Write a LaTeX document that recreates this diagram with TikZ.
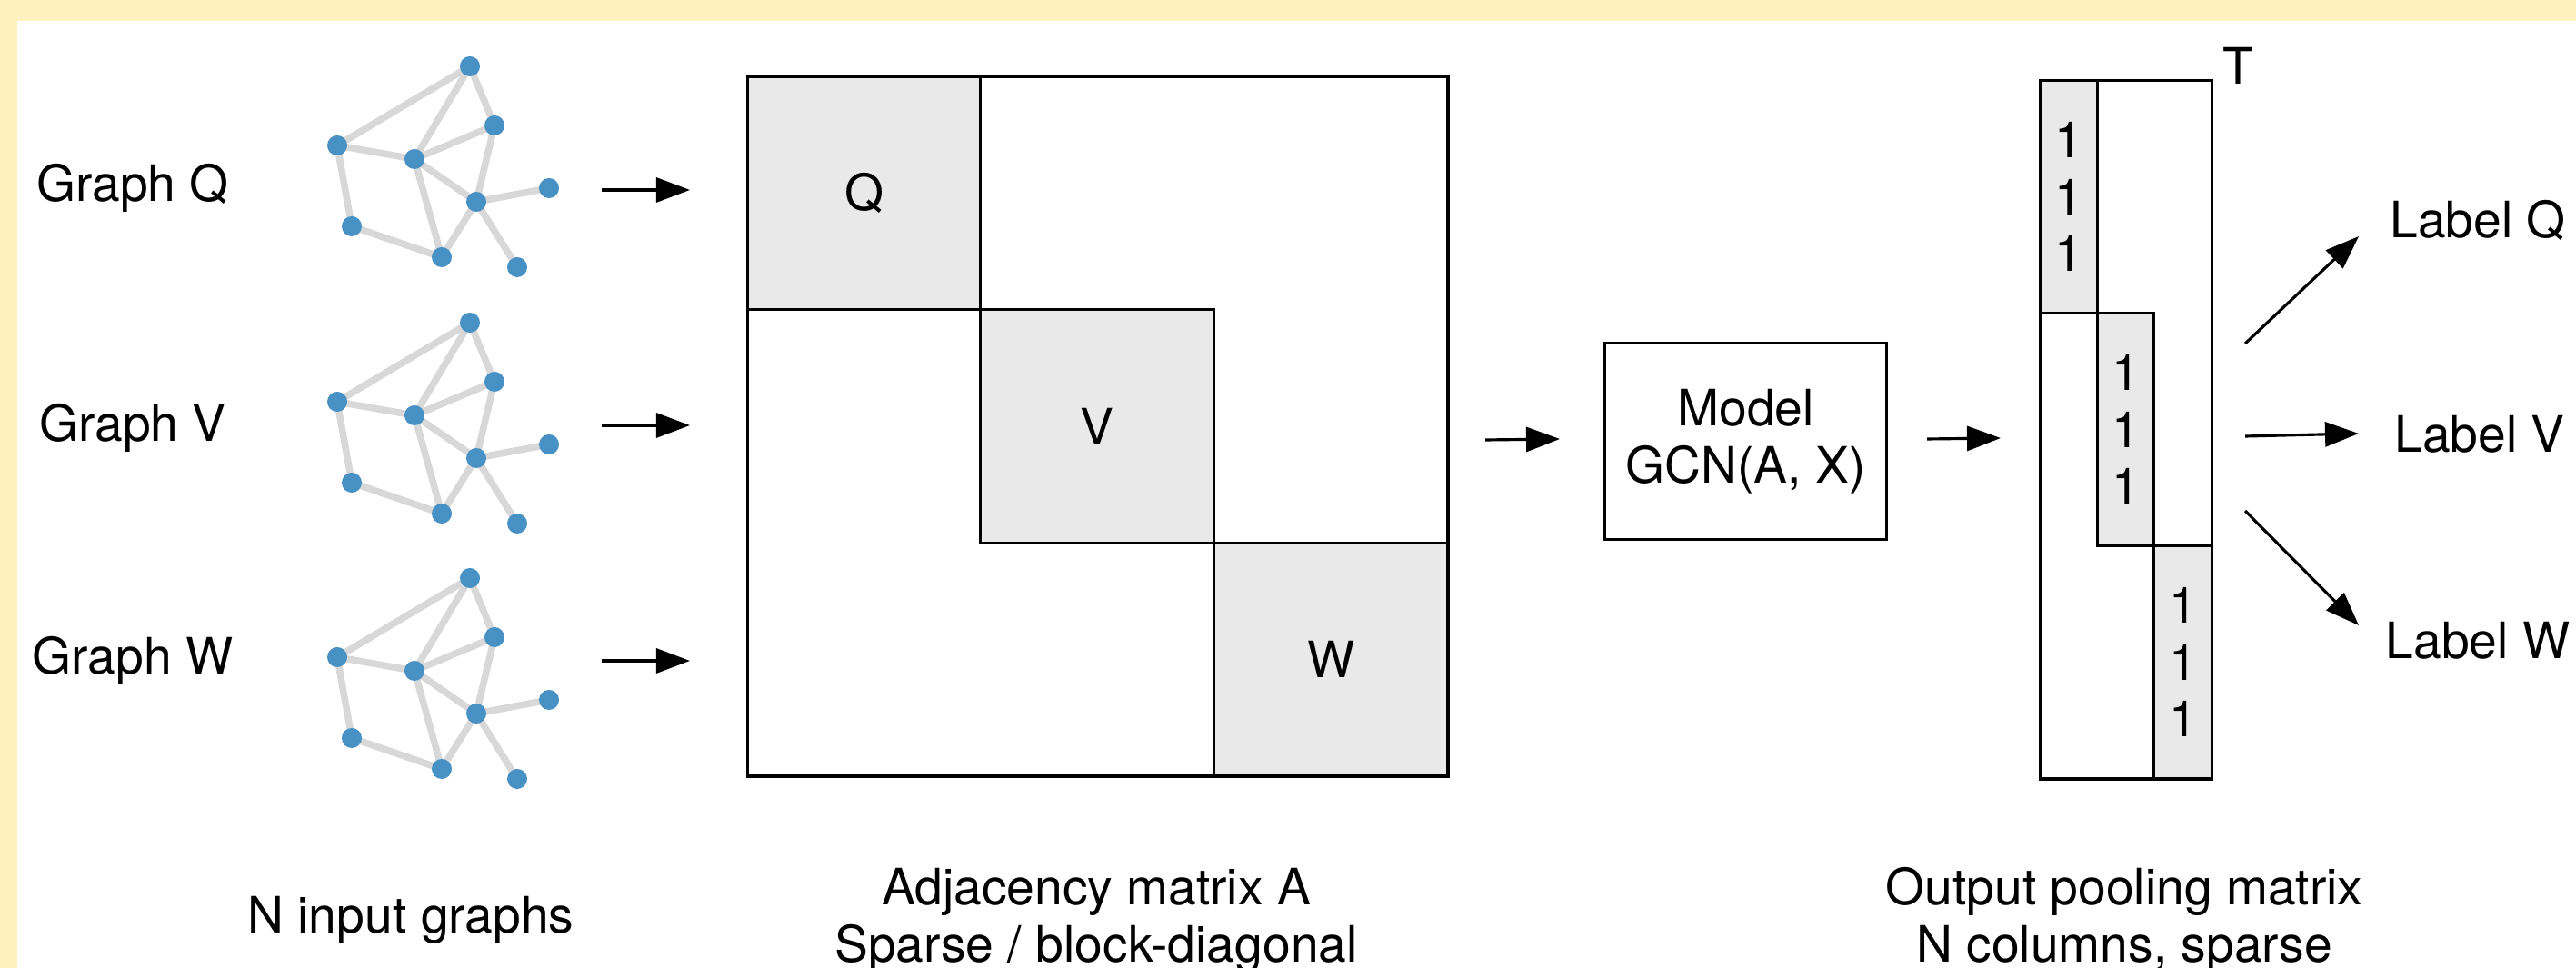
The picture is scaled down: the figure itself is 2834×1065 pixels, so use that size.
\documentclass[tikz,border=0pt]{standalone}
\usepackage{fontspec}
\setmainfont{TeX Gyre Heros}
\usetikzlibrary{arrows.meta}
\definecolor{bandyellow}{RGB}{255,240,191}
\definecolor{blockgray}{RGB}{233,233,233}
\definecolor{edgegray}{RGB}{216,216,216}
\definecolor{nodeblue}{RGB}{72,145,196}
\pgfdeclarelayer{back}
\pgfdeclarelayer{edges}
\pgfsetlayers{back,edges,main}
\begin{document}
\begin{tikzpicture}[x=0.01cm,y=-0.01cm,
  txt/.style={font=\fontsize{15.7}{17.8}\selectfont, inner sep=0pt},
  gnode/.style={circle, fill=nodeblue, minimum size=0.22cm, inner sep=0pt},
  gedge/.style={draw=edgegray, line width=0.075cm},
  matbox/.style={draw=black, line width=0.9pt, rectangle, inner sep=0pt, anchor=north west},
  block/.style={matbox, fill=blockgray, font=\fontsize{15.7}{17.8}\selectfont, align=center},
  arr/.style={line width=0.9pt, -{Triangle[length=0.37cm,width=0.27cm]}},
]
\useasboundingbox (0,0) rectangle (2834,1065);
\begin{pgfonlayer}{back}
  \fill[white] (0,0) rectangle (2834,1065);
  \fill[bandyellow] (0,0) rectangle (2834,23);
  \fill[bandyellow] (0,0) rectangle (19,1065);
\end{pgfonlayer}

% input graphs
\foreach \g/\dy in {Q/0,V/282,W/563}{
  \begin{scope}[shift={(0,\dy)}]
    \node[gnode] (g\g-t)  at (517,73)  {};
    \node[gnode] (g\g-rm) at (544,138) {};
    \node[gnode] (g\g-l)  at (371,160) {};
    \node[gnode] (g\g-c)  at (456,175) {};
    \node[gnode] (g\g-fr) at (604,207) {};
    \node[gnode] (g\g-h)  at (524,222) {};
    \node[gnode] (g\g-ll) at (387,249) {};
    \node[gnode] (g\g-b)  at (486,283) {};
    \node[gnode] (g\g-br) at (569,294) {};
  \end{scope}
  \begin{pgfonlayer}{edges}
    \foreach \a/\b in {t/l,t/c,t/rm,rm/c,rm/h,l/c,l/ll,ll/b,c/b,c/h,h/b,h/fr,h/br}
      \draw[gedge] (g\g-\a.center) -- (g\g-\b.center);
  \end{pgfonlayer}
}

% graph labels
\node[txt, anchor=base] (lgQ) at (146,222) {Graph Q};
\node[txt, anchor=base] (lgV) at (146,486) {Graph V};
\node[txt, anchor=base] (lgW) at (146,742) {Graph W};

% arrows graphs -> matrix
\coordinate (aQs) at (662,209); \coordinate (aQe) at (759,209);
\coordinate (aVs) at (662,468); \coordinate (aVe) at (759,468);
\coordinate (aWs) at (662,727); \coordinate (aWe) at (759,727);
\draw[arr] (aQs) -- (aQe);
\draw[arr] (aVs) -- (aVe);
\draw[arr] (aWs) -- (aWe);

% adjacency matrix
\node[matbox, minimum width=7.70cm, minimum height=7.69cm] (matA) at (821,83) {};
\node[block, minimum width=2.56cm, minimum height=2.56cm] (bQ) at (821,83) {Q};
\node[block, minimum width=2.57cm, minimum height=2.57cm] (bV) at (1077,339) {V};
\node[block, minimum width=2.57cm, minimum height=2.56cm] (bW) at (1334,596) {W};

% model
\coordinate (mIs) at (1634,484); \coordinate (mIe) at (1716,483);
\draw[arr] (mIs) -- (mIe);
\node[matbox, minimum width=3.10cm, minimum height=2.16cm, align=center,
      font=\fontsize{15.7}{17.8}\selectfont] (model) at (1764,376) {Model\\GCN(A, X)};
\coordinate (mOs) at (2120,483); \coordinate (mOe) at (2201,482);
\draw[arr] (mOs) -- (mOe);

% pooling matrix
\node[matbox, minimum width=1.89cm, minimum height=7.68cm] (matP) at (2243,87) {};
\node[block, minimum width=0.63cm, minimum height=2.56cm] (p1) at (2243,87) {1\\1\\1};
\node[block, minimum width=0.62cm, minimum height=2.56cm] (p2) at (2306,343) {1\\1\\1};
\node[block, minimum width=0.64cm, minimum height=2.56cm] (p3) at (2368,599) {1\\1\\1};
\node[txt, anchor=base] (supT) at (2462,93) {T};

% output arrows and labels
\coordinate (oQs) at (2470,378); \coordinate (oQe) at (2595,260);
\coordinate (oVs) at (2470,480); \coordinate (oVe) at (2595,477);
\coordinate (oWs) at (2470,562); \coordinate (oWe) at (2595,688);
\draw[arr] (oQs) -- (oQe);
\draw[arr] (oVs) -- (oVe);
\draw[arr] (oWs) -- (oWe);
\node[txt, anchor=base] (labQ) at (2726,262) {Label Q};
\node[txt, anchor=base] (labV) at (2728,498) {Label V};
\node[txt, anchor=base] (labW) at (2726,725) {Label W};

% captions
\node[txt, anchor=base] (capG) at (452,1027) {N input graphs};
\node[txt, anchor=base] (capA1) at (1206,995) {Adjacency matrix A};
\node[txt, anchor=base] (capA2) at (1206,1058) {Sparse / block-diagonal};
\node[txt, anchor=base] (capP1) at (2337,995) {Output pooling matrix};
\node[txt, anchor=base] (capP2) at (2337,1058) {N columns, sparse};
\end{tikzpicture}
\end{document}
